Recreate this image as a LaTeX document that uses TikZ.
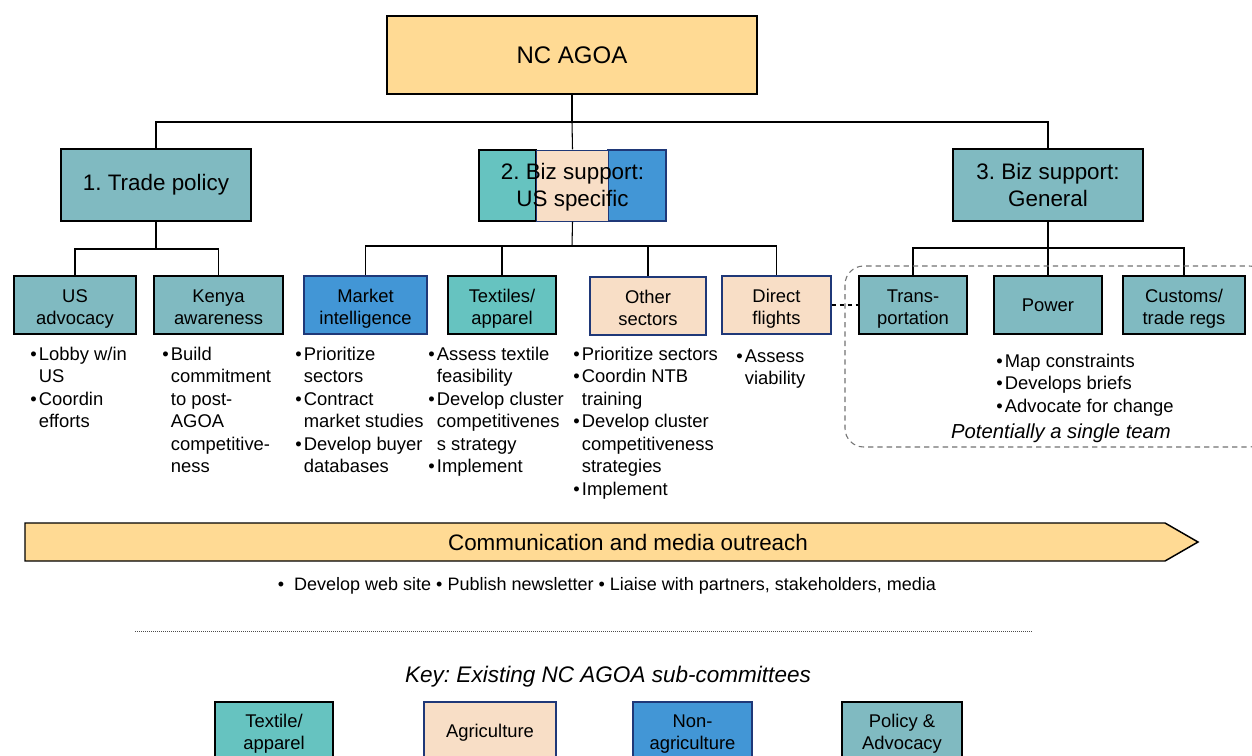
\documentclass[tikz,border=0pt]{standalone}
\usepackage{fontspec}
\setmainfont{Liberation Sans}
\definecolor{cgold}{RGB}{255,218,148}
\definecolor{cgteal}{RGB}{128,186,193}
\definecolor{cteal}{RGB}{102,195,192}
\definecolor{cpeach}{RGB}{248,222,198}
\definecolor{cblue}{RGB}{66,150,214}
\definecolor{cnavy}{RGB}{31,56,120}
\newcommand\fbul{\fontsize{13.8}{16.9}\selectfont}
\newcommand\fbig{\fontsize{16.8}{20.2}\selectfont}
\newcommand\fhuge{\fontsize{18}{21}\selectfont}
\newcommand\fweb{\fontsize{13.5}{16}\selectfont}
\newcommand\fkey{\fontsize{16.9}{19}\selectfont}
\newcommand\fteam{\fontsize{15.2}{17}\selectfont}
\newcommand\bu{\makebox[0.47em][l]{•}}
\newcommand\tA{\rule{0pt}{16.4pt}}
\newcommand\tK{\rule{0pt}{11.9pt}}
\newcommand\dA{\rule[-4pt]{0pt}{4pt}}
\begin{document}
\frenchspacing
\begin{tikzpicture}[x=0.75pt,y=-0.75pt,
  bx/.style={draw=black, line width=1pt, inner sep=0pt, align=center, font=\fbul},
  nbx/.style={bx, draw=cnavy},
  lvl/.style={minimum height=43.5pt},
  keyb/.style={minimum height=46.5pt},
  conn/.style={draw=black, line width=0.8pt},
  blist/.style={anchor=north west, inner sep=0pt, font=\fbul}]
\clip (0,0) rectangle (1252,756);
\fill[white] (0,0) rectangle (1252,756);

% level 1
\node[bx, fill=cgold, font=\fhuge, minimum width=277.5pt, minimum height=58.5pt] (root) at (572,55) {NC AGOA};

% level 2
\node[bx, fill=cgteal, font=\fbig, minimum width=142.5pt, minimum height=54pt] (b1) at (156,185) {1. Trade policy};
\node[draw=black, fill=cteal, line width=1pt, inner sep=0pt, minimum width=42.75pt, minimum height=53.25pt] (b2a) at (507.5,185.5) {};
\node[draw=cnavy, fill=cblue, line width=1pt, inner sep=0pt, minimum width=43.5pt, minimum height=53.25pt] (b2c) at (637,185.5) {};
\node[draw=cnavy, fill=cpeach, line width=0.6pt, inner sep=0pt, minimum width=54pt, minimum height=53.25pt] (b2b) at (572,185.5) {};
\node[inner sep=0pt, align=center, font=\fbig, minimum width=140.25pt, minimum height=53.25pt] (b2) at (572.5,187) {2. Biz support:\\US specific};
\node[bx, fill=cgteal, font=\fbig, minimum width=142.5pt, minimum height=54pt] (b3) at (1048,185) {3. Biz support:\\General};

% level 3
\node[bx, lvl, fill=cgteal, minimum width=91.5pt] (usadv) at (75,305) {\tA US\\advocacy\dA};
\node[bx, lvl, fill=cgteal, minimum width=96.75pt] (kenya) at (218.5,305) {\tA Kenya\\awareness\dA};
\node[nbx, lvl, fill=cblue, minimum width=92.25pt] (market) at (365.5,305) {\tA Market\\intelligence\dA};
\node[bx, lvl, fill=cteal, minimum width=81pt] (textiles) at (502,305) {\tA Textiles/\\apparel\dA};
\node[nbx, lvl, fill=cpeach, minimum width=87pt] (other) at (648,306) {\tA Other\\sectors\dA};
\node[nbx, lvl, fill=cpeach, minimum width=81.75pt] (direct) at (776.5,305) {\tA Direct\\flights\dA};
\node[bx, lvl, fill=cgteal, minimum width=81pt] (trans) at (913,305) {\tA Trans-\\portation\dA};
\node[bx, lvl, fill=cgteal, minimum width=81pt] (power) at (1048,305) {Power};
\node[bx, lvl, fill=cgteal, minimum width=91.5pt] (customs) at (1184,305) {\tA Customs/\\trade regs\dA};

% connectors
\coordinate (bus0) at (572,122);
\draw[conn] (root.south) -- (bus0);
\draw[conn] (bus0) -| (b1.north);
\draw[conn] (bus0) -| (b3.north);
\draw[conn] (bus0) -- (b2a.north -| b2.north);

\coordinate (bus1) at (156,249);
\draw[conn] (b1.south) -- (bus1);
\draw[conn] (bus1) -| (usadv.north);
\draw[conn] (bus1) -| (kenya.north);

\coordinate (bus2) at (572,246);
\draw[conn] (b2a.south -| b2.south) -- (bus2);
\draw[conn] (bus2) -| (market.north);
\draw[conn] (bus2) -| (textiles.north);
\draw[conn] (bus2) -| (other.north);
\draw[conn] (bus2) -| (direct.north);

\coordinate (bus3) at (1048,248);
\draw[conn] (b3.south) -- (bus3);
\draw[conn] (bus3) -| (trans.north);
\draw[conn] (bus3) -- (power.north);
\draw[conn] (bus3) -| (customs.north);

\draw[conn, dashed] (direct.east) -- (trans.west);

% dashed group
\draw[black!55, line width=0.8pt, dash pattern=on 4pt off 3pt, rounded corners=14pt] (845,266) rectangle (1268,447);

% bullet lists
\node[blist] (l1) at (30,344) {\begin{tabular}{@{}l@{}l@{}}\bu&Lobby w/in\\&US\\\bu&Coordin\\&efforts\end{tabular}};
\node[blist] (l2) at (162,344) {\begin{tabular}{@{}l@{}l@{}}\bu&Build\\&commitment\\&to post-\\&AGOA\\&competitive-\\&ness\end{tabular}};
\node[blist] (l3) at (295,344) {\begin{tabular}{@{}l@{}l@{}}\bu&Prioritize\\&sectors\\\bu&Contract\\&market studies\\\bu&Develop buyer\\&databases\end{tabular}};
\node[blist] (l4) at (428,344) {\begin{tabular}{@{}l@{}l@{}}\bu&Assess textile\\&feasibility\\\bu&Develop cluster\\&competitivenes\\&s strategy\\\bu&Implement\end{tabular}};
\node[blist] (l5) at (573,344) {\begin{tabular}{@{}l@{}l@{}}\bu&Prioritize sectors\\\bu&Coordin NTB\\&training\\\bu&Develop cluster\\&competitiveness\\&strategies\\\bu&Implement\end{tabular}};
\node[blist] (l6) at (736,346) {\begin{tabular}{@{}l@{}l@{}}\bu&Assess\\&viability\end{tabular}};
\node[blist] (l7) at (996,351) {\begin{tabular}{@{}l@{}l@{}}\bu&Map constraints\\\bu&Develops briefs\\\bu&Advocate for change\end{tabular}};
\node[anchor=base, inner sep=0pt, font=\fteam\itshape] (team) at (1061,438) {Potentially a single team};

% communication arrow
\draw[fill=cgold, draw=black, line width=1.1pt] (25,523) -- (1165,523) -- (1198,542) -- (1165,561) -- (25,561) -- cycle;
\node[inner sep=0pt, font=\fbig] (comm) at (628,542) {Communication and media outreach};
\node[anchor=base, inner sep=0pt, font=\fweb] (web) at (607,590) {•\ \ Develop web site • Publish newsletter • Liaise with partners, stakeholders, media};

% separator
\draw[black!70, line width=0.7pt, dash pattern=on 0.75pt off 0.75pt] (135,631) -- (1032,631);

% key
\node[anchor=base, inner sep=0pt, font=\fkey\itshape] (key) at (608,682) {Key: Existing NC AGOA sub-committees};
\node[bx, keyb, fill=cteal, minimum width=88.5pt] (k1) at (274,733) {\tK Textile/\\apparel\dA};
\node[nbx, keyb, fill=cpeach, minimum width=99pt] (k2) at (490,733) {Agriculture};
\node[nbx, keyb, fill=cblue, minimum width=89.25pt] (k3) at (692.5,733) {\tK Non-\\agriculture\dA};
\node[bx, keyb, fill=cgteal, minimum width=90pt] (k4) at (902,733) {\tK Policy \&\\Advocacy\dA};
\end{tikzpicture}
\end{document}
